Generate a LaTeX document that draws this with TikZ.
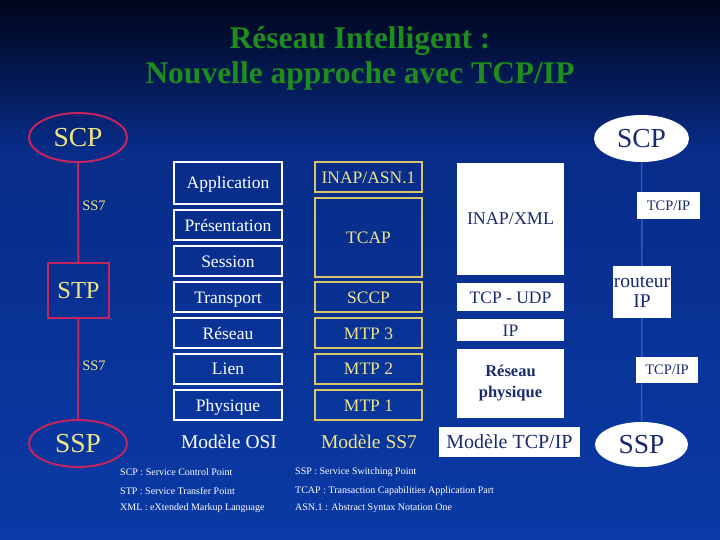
\documentclass[tikz,border=0pt]{standalone}
\usepackage{fontspec}
\setmainfont{Liberation Serif}
\usetikzlibrary{shapes.geometric,positioning}
\definecolor{bgtop}{HTML}{00051A}
\definecolor{bgmid}{HTML}{082C88}
\definecolor{bgbot}{HTML}{0A3AA6}
\definecolor{titlegreen}{HTML}{1E8C1E}
\definecolor{crimson}{HTML}{C4245E}
\definecolor{paleyellow}{HTML}{EEE48A}
\definecolor{ssgold}{HTML}{D9C468}
\definecolor{navytext}{HTML}{1A2A6E}
\definecolor{iplink}{HTML}{2A5AD0}
\tikzset{
  one line/.style={text height=12, text depth=0},
  osi layer/.style={draw=white, line width=2pt, text=white, minimum width=108, inner sep=0pt,
    font=\fontsize{17.5}{19}\selectfont, one line},
  ss7 layer/.style={draw=ssgold, line width=2pt, text=paleyellow, minimum width=107, inner sep=0pt,
    font=\fontsize{17.5}{19}\selectfont, one line},
  ip layer/.style={fill=white, text=navytext, minimum width=107, inner sep=0pt,
    font=\fontsize{17.5}{21}\selectfont, align=center},
  ss7 node/.style={draw=crimson, line width=2pt, text=paleyellow, inner sep=0pt,
    font=\fontsize{27.5}{29}\selectfont},
  ip node/.style={fill=white, text=navytext, inner sep=0pt, font=\fontsize{27.5}{29}\selectfont},
  model/.style={font=\fontsize{19.5}{21}\selectfont},
  legend/.style={anchor=west, text=white, inner sep=0pt, font=\fontsize{10}{11}\selectfont},
}
\begin{document}
\begin{tikzpicture}[x=1pt, y=-1pt,
   link label/.style={font=\fontsize{14.5}{16}\selectfont, inner sep=0pt}
   ]
  \useasboundingbox (0,0) rectangle (720,540);
  % background
  \shade[top color=bgtop, bottom color=bgmid] (0,0) rectangle (720,150);
  \shade[top color=bgmid, bottom color=bgbot] (0,150) rectangle (720,540);

  % title
  \path (360,41) node (title1) [text=titlegreen, font=\bfseries\fontsize{31.5}{33}\selectfont] {Réseau Intelligent :}
        (360,76) node (title2) [text=titlegreen, font=\bfseries\fontsize{31.5}{33}\selectfont] {Nouvelle approche avec TCP/IP};

  % left: SS7 network
  \node[ss7 node, ellipse, minimum width=98, minimum height=49] (scpL) at (78,137.5) {SCP};
  \node[ss7 node, rectangle, minimum width=61, minimum height=55, font=\fontsize{24.5}{26}\selectfont] (stp) at (78.5,290.5) {STP};
  \node[ss7 node, ellipse, minimum width=98, minimum height=47] (sspL) at (78,443.5) {SSP};
  \draw[crimson, line width=2pt] (scpL) -- (stp);
  \draw[crimson, line width=2pt] (stp) -- (sspL);
  \node[link label, text=paleyellow] (ss7a) at (94,206) {SS7};
  \node[link label, text=paleyellow] (ss7b) at (94,366) {SS7};

  % OSI model
  \node[osi layer, minimum height=42] (app) at (228,183) {Application};
  \node[osi layer, minimum height=30] (pres) at (228,225) {Présentation};
  \node[osi layer, minimum height=30] (sess) at (228,261) {Session};
  \node[osi layer, minimum height=30] (trans) at (228,297) {Transport};
  \node[osi layer, minimum height=30] (net) at (228,333) {Réseau};
  \node[osi layer, minimum height=30] (link) at (228,368.5) {Lien};
  \node[osi layer, minimum height=30] (phys) at (228,405) {Physique};
  \node[model, text=white] (osi) at (229,442) {Modèle OSI};

  % SS7 model
  \node[ss7 layer, minimum height=30] (inap) at (368.5,177.5) {INAP/ASN.1};
  \node[ss7 layer, minimum height=78] (tcap) at (368.5,237.5) {TCAP};
  \node[ss7 layer, minimum height=30] (sccp) at (368.5,297) {SCCP};
  \node[ss7 layer, minimum height=30] (mtp3) at (368.5,333) {MTP 3};
  \node[ss7 layer, minimum height=30] (mtp2) at (368.5,368.5) {MTP 2};
  \node[ss7 layer, minimum height=30] (mtp1) at (368.5,405) {MTP 1};
  \node[model, text=paleyellow] (ss7model) at (369,442) {Modèle SS7};

  % TCP/IP model
  \node[ip layer, one line, minimum height=112, font=\fontsize{18}{20}\selectfont] (inapxml) at (510.5,219) {INAP/XML};
  \node[ip layer, one line, minimum height=28] (tcpudp) at (510.5,297) {TCP - UDP};
  \node[ip layer, one line, minimum height=22] (ip) at (510.5,330) {IP};
  \node[ip layer, minimum height=69, font=\bfseries\fontsize{16.5}{21}\selectfont] (physnet) at (510.5,383.5) {Réseau\\physique};
  \node[ip layer, model, one line, minimum width=141, minimum height=30, font=\fontsize{20}{22}\selectfont] (ipmodel) at (509.5,442) {Modèle TCP/IP};

  % right: IP network
  \node[ip node, ellipse, minimum width=95, minimum height=47] (scpR) at (641.5,138.5) {SCP};
  \node[ip node, rectangle, minimum width=58, minimum height=52, align=center,
        font=\fontsize{19.5}{20}\selectfont] (routeur) at (642,292) {routeur\\IP};
  \node[ip node, ellipse, minimum width=93, minimum height=45] (sspR) at (641.5,444.5) {SSP};
  \draw[iplink, line width=1.5pt] (scpR) -- (routeur);
  \draw[iplink, line width=1.5pt] (routeur) -- (sspR);
  \node[link label, fill=white, text=navytext, minimum width=63, minimum height=27] (tcpipa) at (668.5,205.5) {TCP/IP};
  \node[link label, fill=white, text=navytext, minimum width=62, minimum height=26] (tcpipb) at (667,370) {TCP/IP};

  % legend
  \node[legend] (lscp) at (120,472.5) {SCP : Service Control Point};
  \node[legend] (lstp) at (120,491) {STP : Service Transfer Point};
  \node[legend] (lxml) at (120,508.5) {XML : eXtended Markup Language};
  \node[legend] (lssp) at (295,472.5) {SSP : Service Switching Point};
  \node[legend] (ltcap) at (295,491) {TCAP : Transaction Capabilities Application Part};
  \node[legend] (lasn) at (295,508.5) {ASN.1 : Abstract Syntax Notation One};
\end{tikzpicture}
\end{document}
